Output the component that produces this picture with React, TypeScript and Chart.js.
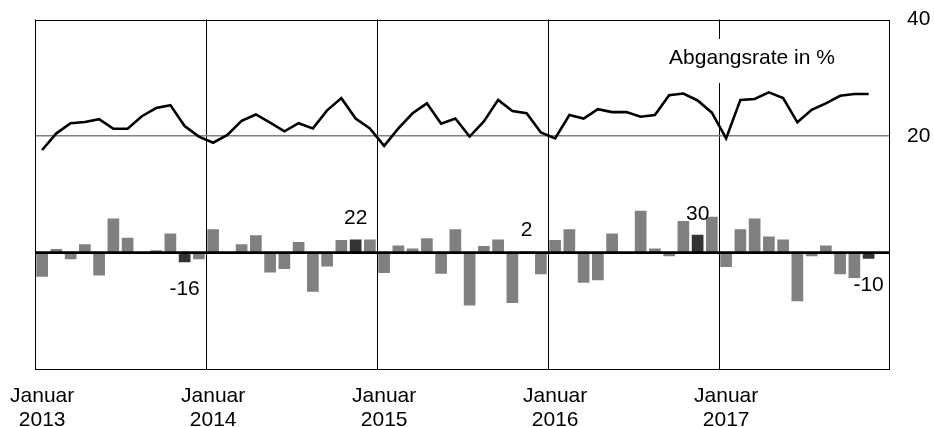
import React, { useEffect, useRef } from "react";
import { Chart, registerables } from "chart.js";

Chart.register(...registerables);

const years = [2013, 2014, 2015, 2016, 2017];
const monthNames = ["Januar", "Februar", "März", "April", "Mai", "Juni", "Juli", "August", "September", "Oktober", "November", "Dezember"];
const categories: string[] = years.flatMap((y) => monthNames.map((m) => `${m} ${y}`));

// Change (bars), hidden scale
const changeValues: (number | null)[] = [
  -40, 6, -11, 14, -38, 57, 25, 0, 4, 32, -16, -11,
  39, 0, 14, 29, -33, -27, 18, -65, -23, 21, 22, 22,
  -34, 12, 7, 24, -35, 39, -88, 11, 22, -84, 2, -36,
  21, 39, -50, -46, 32, 0, 70, 7, -6, 53, 30, 60,
  -24, 39, 57, 27, 22, -81, -6, 12, -36, -42, -10, null,
];

// Abgangsrate in %
const rateValues: (number | null)[] = [
  17.6, 20.46, 22.2, 22.4, 22.9, 21.25, 21.25, 23.4, 24.8, 25.3, 21.7, 19.9,
  18.85, 20.2, 22.6, 23.7, 22.3, 20.8, 22.2, 21.3, 24.4, 26.5, 23.0, 21.3,
  18.3, 21.3, 23.9, 25.6, 22.1, 23.0, 19.9, 22.5, 26.2, 24.3, 23.9, 20.6,
  19.6, 23.6, 23.0, 24.6, 24.1, 24.1, 23.3, 23.6, 27.0, 27.3, 26.1, 24.0,
  19.6, 26.2, 26.35, 27.5, 26.5, 22.35, 24.5, 25.6, 26.9, 27.2, 27.2, null,
];

// Highlighted (November) bars with their labels
const highlightIndices = [10, 22, 34, 46, 58];
const highlightLabels = ["-16", "22", "2", "30", "-10"];

const rightTickLabels = [20, 40];
const seriesLabel = "Abgangsrate in %";

const FONT = "'Liberation Sans', Arial, sans-serif";

const zeroPadding = (s: any) => {
  s.paddingTop = 0;
  s.paddingBottom = 0;
  s.paddingLeft = 0;
  s.paddingRight = 0;
};

export default function App() {
  const ref = useRef<HTMLCanvasElement | null>(null);

  useEffect(() => {
    if (!ref.current) return;

    const overlay = {
      id: "overlay",
      beforeDatasetsDraw(chart: any) {
        const ctx = chart.ctx;
        const area = chart.chartArea;
        ctx.save();
        // white box behind series label
        ctx.fillStyle = "#ffffff";
        ctx.fillRect(area.right - 232, 39, 188, 44);
        ctx.fillStyle = "#000";
        ctx.font = `21px ${FONT}`;
        ctx.textAlign = "center";
        ctx.textBaseline = "alphabetic";
        ctx.fillText(seriesLabel, area.right - 138, 64);
        ctx.restore();
      },
      afterDatasetsDraw(chart: any) {
        const ctx = chart.ctx;
        const area = chart.chartArea;
        const y2 = chart.scales.y2;
        const zero = y2.getPixelForValue(0);
        ctx.save();
        ctx.strokeStyle = "#000";
        ctx.lineWidth = 2.7;
        ctx.beginPath();
        ctx.moveTo(area.left, zero);
        ctx.lineTo(area.right, zero);
        ctx.stroke();

        // highlight labels
        const meta = chart.getDatasetMeta(1);
        ctx.fillStyle = "#000";
        ctx.font = `21px ${FONT}`;
        ctx.textAlign = "center";
        ctx.textBaseline = "middle";
        highlightIndices.forEach((idx, k) => {
          const el = meta.data[idx];
          const v = changeValues[idx] as number;
          if (!el) return;
          const y = v >= 0 ? el.y - 21 : el.y + 27;
          ctx.fillText(highlightLabels[k], el.x, y);
        });

        // frame
        ctx.lineWidth = 1;
        ctx.strokeStyle = "#000";
        ctx.strokeRect(Math.round(area.left) + 0.5, Math.round(area.top) + 0.5, Math.round(area.right - area.left) - 1, Math.round(area.bottom - area.top) - 1);
        ctx.restore();
      },
    };

    const chart = new Chart(ref.current, {
      type: "bar",
      data: {
        labels: categories,
        datasets: [
          {
            type: "line",
            label: seriesLabel,
            data: rateValues,
            yAxisID: "y",
            borderColor: "#000",
            borderWidth: 2.6,
            pointRadius: 0,
            tension: 0,
            order: 0,
          } as any,
          {
            type: "bar",
            label: "Veränderung",
            data: changeValues,
            yAxisID: "y2",
            backgroundColor: changeValues.map((_, i) => (highlightIndices.includes(i) ? "#333333" : "#808080")),
            borderWidth: 0,
            barPercentage: 0.82,
            categoryPercentage: 1,
            order: 1,
          },
        ],
      },
      options: {
        responsive: false,
        animation: false,
        layout: { padding: { left: 35, top: 19.5, right: 0, bottom: 0 } },
        plugins: {
          legend: { display: false },
          tooltip: { enabled: false },
          title: { display: false },
        },
        scales: {
          x: {
            type: "category",
            offset: true,
            grid: {
              offset: true,
              drawTicks: false,
              lineWidth: 1,
              color: (c: any) => (c.index % 12 === 0 ? "#000" : "rgba(0,0,0,0)"),
            },
            border: { display: false },
            ticks: {
              autoSkip: false,
              maxRotation: 0,
              minRotation: 0,
              padding: 16,
              color: "#000",
              font: { family: FONT, size: 21, lineHeight: 1.11 },
              callback: (_v: any, i: number) => (i % 12 === 0 ? ["Januar", String(years[i / 12])] : ""),
            },
            afterFit: (s: any) => {
              s.height = 58;
              zeroPadding(s);
            },
          },
          y: {
            position: "right",
            min: -20,
            max: 40,
            grid: {
              drawTicks: false,
              lineWidth: 1.5,
              color: (c: any) => (c.tick && c.tick.value === 20 ? "#808080" : "rgba(0,0,0,0)"),
            },
            border: { display: false },
            ticks: {
              stepSize: 20,
              padding: 17,
              color: "#000",
              font: { family: FONT, size: 21 },
              callback: (v: any) => (rightTickLabels.includes(Number(v)) ? String(v) : ""),
            },
            afterFit: (s: any) => {
              s.width = 44;
              zeroPadding(s);
            },
          },
          y2: {
            display: false,
            min: -194,
            max: 389,
          },
        },
      },
      plugins: [overlay],
    });

    return () => chart.destroy();
  }, []);

  return (
    <div style={{ position: "absolute", left: 0, top: 0, width: 934, height: 427, background: "#fff" }}>
      <canvas ref={ref} width={934} height={427} style={{ display: "block" }} />
    </div>
  );
}
